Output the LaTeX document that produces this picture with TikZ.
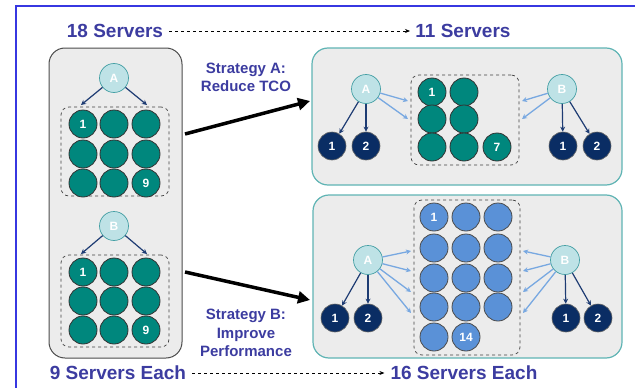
\documentclass[tikz,border=0pt]{standalone}
\usepackage{fontspec}
\setmainfont{Liberation Sans}
\usetikzlibrary{arrows.meta,calc}
\definecolor{txtblue}{RGB}{60,60,160}
\definecolor{frameblue}{RGB}{55,55,225}
\definecolor{tealc}{RGB}{0,135,125}
\definecolor{cyanl}{RGB}{190,226,230}
\definecolor{cyanb}{RGB}{70,160,165}
\definecolor{navy}{RGB}{10,45,100}
\definecolor{bluec}{RGB}{90,145,215}
\definecolor{lightarr}{RGB}{120,168,225}
\definecolor{darkarr}{RGB}{30,60,115}
\definecolor{panelfill}{RGB}{236,236,236}
\definecolor{panelteal}{RGB}{95,180,180}
\begin{document}
\begin{tikzpicture}[x=1pt,y=-1pt,
  lbl/.style={font=\bfseries\fontsize{19}{22}\selectfont, text=txtblue, inner sep=0pt},
  strat/.style={font=\bfseries\fontsize{15}{18.5}\selectfont, text=txtblue, align=center, inner sep=0pt},
  panelL/.style={draw=black!70, line width=1pt, fill=panelfill, rounded corners=16pt, minimum width=133pt, minimum height=310pt},
  panelR/.style={draw=panelteal, line width=1.2pt, fill=panelfill, rounded corners=16pt, inner sep=0pt},
  grp/.style={draw=black!75, dashed, line width=0.7pt, rounded corners=8pt, inner sep=0pt},
  srv/.style={circle, draw=black!80, line width=0.8pt, fill=tealc, minimum size=28pt, inner sep=0pt, text=white, font=\bfseries\fontsize{12}{12}\selectfont},
  bsrv/.style={srv, fill=bluec, draw=black!70},
  head/.style={circle, draw=cyanb, line width=0.7pt, fill=cyanl, minimum size=29pt, inner sep=0pt, text=white, font=\bfseries\fontsize{12}{12}\selectfont},
  kid/.style={circle, draw=black!60, line width=0.6pt, fill=navy, minimum size=28pt, inner sep=0pt, text=white, font=\bfseries\fontsize{12}{12}\selectfont},
  darr/.style={draw=darkarr, line width=1.2pt, -{Stealth[length=5pt,width=5pt]}},
  larr/.style={draw=lightarr, line width=1.3pt, -{Stealth[length=5pt,width=5pt]}},
  bigarr/.style={draw=black, line width=3.5pt, -{Triangle[length=12pt,width=12pt]}},
  dasharr/.style={draw=black, dashed, line width=0.7pt, -{Stealth[length=5pt,width=4pt]}}
]
\useasboundingbox (0,0) rectangle (635,388);
% frame
\draw[frameblue, line width=1.3pt] (16,388) -- (16,6) -- (635,6);

% top labels
\node[lbl] (t18) at (115,31) {18 Servers};
\node[lbl] (t11) at (463,31) {11 Servers};
\draw[dasharr] (t18.east) ++(6,0) coordinate (d1s) -- (t11.west -| 410,0) coordinate (d1e);
\node[lbl] (t9) at (118,373) {9 Servers Each};
\node[lbl] (t16) at (464,373) {16 Servers Each};
\draw[dasharr] (t9.east) ++(6,0) coordinate (d2s) -- ($(t16.west)+(-6,0)$) coordinate (d2e);

% left panel
\node[panelL] (LP) at (115.5,203) {};
\node[grp, minimum width=108pt, minimum height=89pt] (LG1) at (115,151.5) {};
\node[grp, minimum width=108pt, minimum height=92pt] (LG2) at (115,301) {};
\node[head] (LA) at (114,78) {A};
\node[head] (LB) at (114,226) {B};
\coordinate (la1) at (81,105);
\coordinate (la2) at (147,105);
\coordinate (lb1) at (81,254);
\coordinate (lb2) at (147,254);
\draw[darr] (LA) -- (la1);
\draw[darr] (LA) -- (la2);
\draw[darr] (LB) -- (lb1);
\draw[darr] (LB) -- (lb2);
\foreach \r/\y in {1/124,2/154,3/183}{
  \foreach \c/\x in {1/83,2/114,3/146}{
    \node[srv] (La\r\c) at (\x,\y) {};
  }
}
\node[text=white, font=\bfseries\fontsize{12}{12}\selectfont] at (La11) {1};
\node[text=white, font=\bfseries\fontsize{12}{12}\selectfont] at (La33) {9};
\foreach \r/\y in {1/272,2/301,3/330}{
  \foreach \c/\x in {1/83,2/114,3/146}{
    \node[srv] (Lb\r\c) at (\x,\y) {};
  }
}
\node[text=white, font=\bfseries\fontsize{12}{12}\selectfont] at (Lb11) {1};
\node[text=white, font=\bfseries\fontsize{12}{12}\selectfont] at (Lb33) {9};

% right top panel
\node[panelR, minimum width=310pt, minimum height=137pt] (RP1) at (467,116.5) {};
\node[grp, minimum width=108pt, minimum height=90pt] (RG1) at (465,120) {};
\node[srv] (Ra1) at (432,92) {1};
\node[srv] (Ra2) at (464,92) {};
\node[srv] (Ra3) at (432,119) {};
\node[srv] (Ra4) at (464,119) {};
\node[srv] (Ra5) at (432,147) {};
\node[srv] (Ra6) at (464,147) {};
\node[srv] (Ra7) at (497,147) {7};
\node[head] (RAa) at (366,89) {A};
\node[head] (RBa) at (562,89) {B};
\node[kid] (RAa1) at (332,146) {1};
\node[kid] (RAa2) at (366,146) {2};
\node[kid] (RBa1) at (563,146) {1};
\node[kid] (RBa2) at (597,146) {2};
\draw[darr] (RAa) -- (RAa1);
\draw[darr] (RAa) -- (RAa2);
\draw[darr] (RBa) -- (RBa1);
\draw[darr] (RBa) -- (RBa2);
\coordinate (ra1) at (408,101);
\coordinate (ra2) at (408,119);
\coordinate (rb1) at (522,101);
\coordinate (rb2) at (522,119);
\draw[larr] (RAa) -- (ra1);
\draw[larr] (RAa) -- (ra2);
\draw[larr] (RBa) -- (rb1);
\draw[larr] (RBa) -- (rb2);

% right bottom panel
\node[panelR, minimum width=309pt, minimum height=163pt] (RP2) at (467.5,276.5) {};
\node[grp, minimum width=106pt, minimum height=155pt] (RG2) at (467,277.5) {};
\foreach \r/\y in {1/217,2/248,3/278,4/307}{
  \foreach \c/\x in {1/434,2/466,3/498}{
    \node[bsrv] (Rb\r\c) at (\x,\y) {};
  }
}
\node[text=white, font=\bfseries\fontsize{12}{12}\selectfont] at (Rb11) {1};
\node[bsrv] (Rb51) at (434,337) {};
\node[bsrv] (Rb52) at (466,337) {14};
\node[head] (RAb) at (368,260) {A};
\node[head] (RBb) at (565,260) {B};
\node[kid] (RAb1) at (335,318) {1};
\node[kid] (RAb2) at (368,318) {2};
\node[kid] (RBb1) at (566,318) {1};
\node[kid] (RBb2) at (598,318) {2};
\draw[darr] (RAb) -- (RAb1);
\draw[darr] (RAb) -- (RAb2);
\draw[darr] (RBb) -- (RBb1);
\draw[darr] (RBb) -- (RBb2);
\foreach \i/\y in {1/251,2/271,3/292,4/313}{
  \coordinate (pa\i) at (411,\y);
  \coordinate (pb\i) at (523,\y);
  \draw[larr] (RAb) -- (pa\i);
  \draw[larr] (RBb) -- (pb\i);
}

% strategy arrows
\coordinate (sa1) at (185,134);
\coordinate (sa2) at (310,101);
\coordinate (sb1) at (185,272);
\coordinate (sb2) at (310,300);
\draw[bigarr] (sa1) -- (sa2);
\draw[bigarr] (sb1) -- (sb2);
\node[strat] (SA) at (246,77.5) {Strategy A:\\Reduce TCO};
\node[strat] (SB) at (246,333) {Strategy B:\\Improve\\Performance};
\end{tikzpicture}
\end{document}
